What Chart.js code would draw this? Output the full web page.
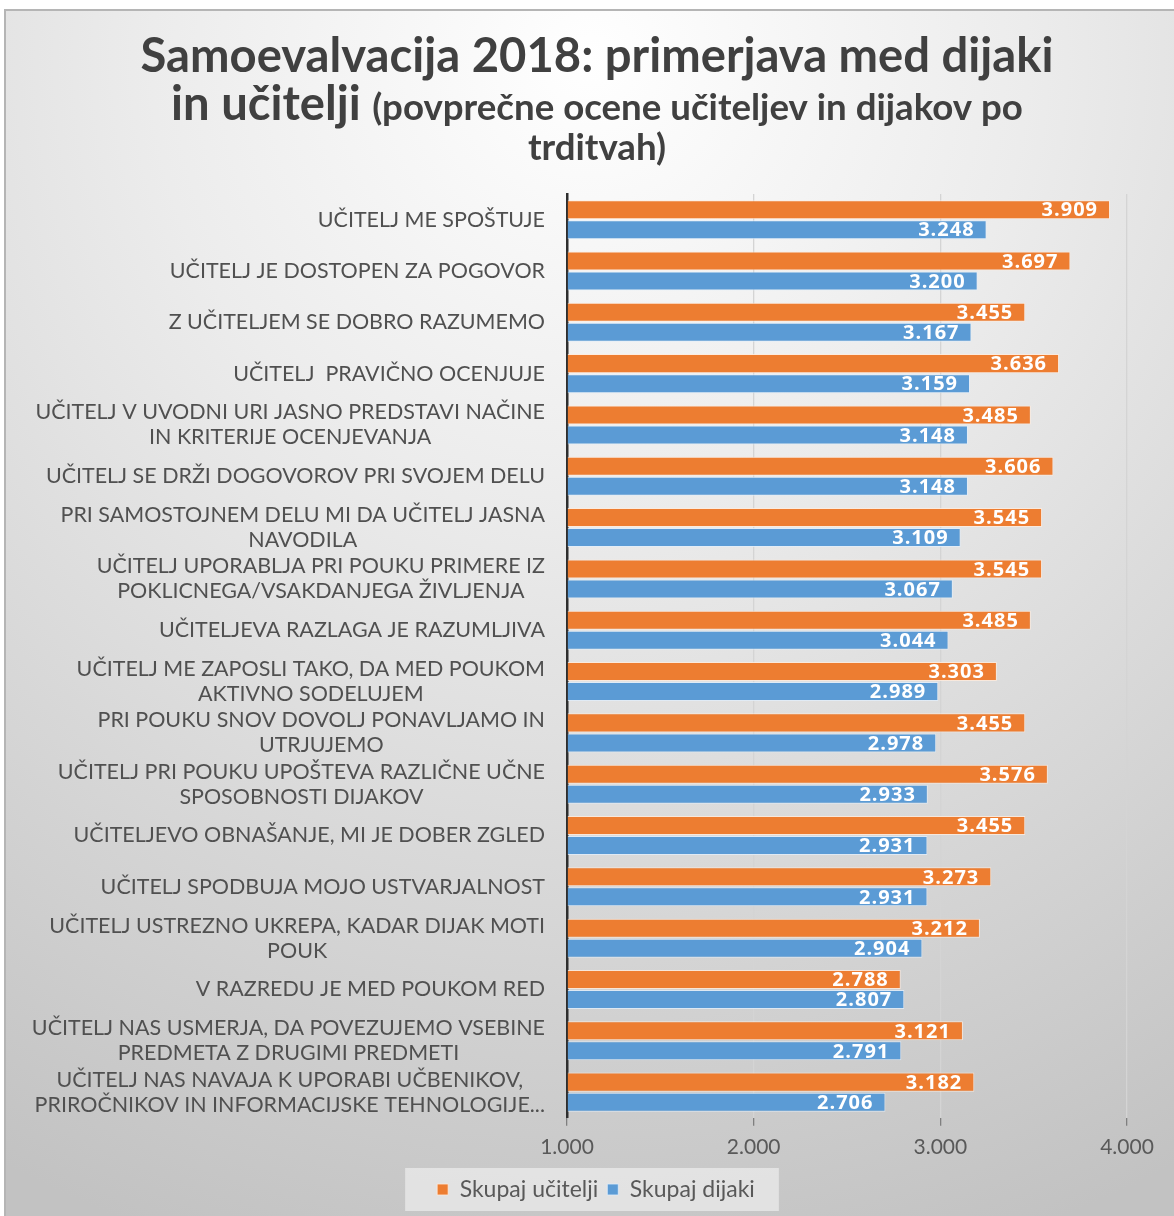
<!DOCTYPE html>
<html>
<head>
<meta charset="utf-8">
<script src="https://cdn.jsdelivr.net/npm/chart.js@4.4.1/dist/chart.umd.min.js"></script>
<style>
  html, body { margin: 0; padding: 0; background: #fff; }
</style>
</head>
<body>
<canvas id="chart" width="1174" height="1216"></canvas>
<script>
const FONT = "Lato, 'Open Sans', sans-serif";

const categories = [
  ["UČITELJ ME SPOŠTUJE"],
  ["UČITELJ JE DOSTOPEN ZA POGOVOR"],
  ["Z UČITELJEM SE DOBRO RAZUMEMO"],
  ["UČITELJ  PRAVIČNO OCENJUJE"],
  ["UČITELJ V UVODNI URI JASNO PREDSTAVI NAČINE", "IN KRITERIJE OCENJEVANJA"],
  ["UČITELJ SE DRŽI DOGOVOROV PRI SVOJEM DELU"],
  ["PRI SAMOSTOJNEM DELU MI DA UČITELJ JASNA", "NAVODILA"],
  ["UČITELJ UPORABLJA PRI POUKU PRIMERE IZ", "POKLICNEGA/VSAKDANJEGA ŽIVLJENJA"],
  ["UČITELJEVA RAZLAGA JE RAZUMLJIVA"],
  ["UČITELJ ME ZAPOSLI TAKO, DA MED POUKOM", "AKTIVNO SODELUJEM"],
  ["PRI POUKU SNOV DOVOLJ PONAVLJAMO IN", "UTRJUJEMO"],
  ["UČITELJ PRI POUKU UPOŠTEVA RAZLIČNE UČNE", "SPOSOBNOSTI DIJAKOV"],
  ["UČITELJEVO OBNAŠANJE, MI JE DOBER ZGLED"],
  ["UČITELJ SPODBUJA MOJO USTVARJALNOST"],
  ["UČITELJ USTREZNO UKREPA, KADAR DIJAK MOTI", "POUK"],
  ["V RAZREDU JE MED POUKOM RED"],
  ["UČITELJ NAS USMERJA, DA POVEZUJEMO VSEBINE", "PREDMETA Z DRUGIMI PREDMETI"],
  ["UČITELJ NAS NAVAJA K UPORABI UČBENIKOV,", "PRIROČNIKOV IN INFORMACIJSKE TEHNOLOGIJE..."]
];

const ucitelji = [3.909, 3.697, 3.455, 3.636, 3.485, 3.606, 3.545, 3.545, 3.485,
                  3.303, 3.455, 3.576, 3.455, 3.273, 3.212, 2.788, 3.121, 3.182];
const dijaki = [3.248, 3.200, 3.167, 3.159, 3.148, 3.148, 3.109, 3.067, 3.044,
                2.989, 2.978, 2.933, 2.931, 2.931, 2.904, 2.807, 2.791, 2.706];

const xMin = 1;
const xMax = 4;

// velikost pisave, da se besedilo raztegne na dano širino
function fitSize(ctx, text, weight, width) {
  ctx.font = weight + " 100px " + FONT;
  return 100 * width / ctx.measureText(text).width;
}

const background = {
  id: "background",
  beforeDraw(chart) {
    const ctx = chart.ctx;
    ctx.save();
    ctx.fillStyle = "#fff";
    ctx.fillRect(0, 0, chart.width, chart.height);
    const g = ctx.createRadialGradient(590, 60, 0, 590, 60, 1250);
    g.addColorStop(0, "#ffffff");
    g.addColorStop(0.35, "#ececec");
    g.addColorStop(1, "#c2c2c2");
    ctx.fillStyle = g;
    ctx.fillRect(5, 10, chart.width - 5, chart.height - 10);
    ctx.strokeStyle = "#b5b5b5";
    ctx.lineWidth = 2;
    ctx.strokeRect(5, 10, chart.width, chart.height);

    // ozadje legende
    const boxes = chart.legend.legendHitBoxes;
    if (boxes && boxes.length) {
      let l = Infinity, r = -Infinity, t = Infinity, b = -Infinity;
      boxes.forEach(h => {
        l = Math.min(l, h.left); r = Math.max(r, h.left + h.width);
        t = Math.min(t, h.top); b = Math.max(b, h.top + h.height);
      });
      ctx.fillStyle = "rgba(235,235,235,0.75)";
      ctx.fillRect(l - 32, t - 10, r - l + 56, b - t + 20);
    }
    ctx.restore();
  }
};

const titleDraw = {
  id: "titleDraw",
  afterDraw(chart) {
    const ctx = chart.ctx;
    ctx.save();
    ctx.fillStyle = "#404040";
    ctx.textBaseline = "alphabetic";
    const t1 = "Samoevalvacija 2018: primerjava med dijaki";
    const big = fitSize(ctx, t1, "bold", 913);
    ctx.font = "bold " + big + "px " + FONT;
    ctx.textAlign = "center";
    ctx.fillText(t1, 597, 72);

    const a = "in učitelji ";
    const b = "(povprečne ocene učiteljev in dijakov po";
    const small = fitSize(ctx, b, "bold", 651);
    ctx.font = "bold " + big + "px " + FONT;
    const wa = ctx.measureText(a).width;
    ctx.font = "bold " + small + "px " + FONT;
    const wb = ctx.measureText(b).width;
    let x = 597 - (wa + wb) / 2;
    ctx.textAlign = "left";
    ctx.font = "bold " + big + "px " + FONT;
    ctx.fillText(a, x, 120);
    ctx.font = "bold " + small + "px " + FONT;
    ctx.fillText(b, x + wa, 120);

    ctx.textAlign = "center";
    ctx.fillText("trditvah)", 597, 160);
    ctx.restore();
  }
};

const categoryLabels = {
  id: "categoryLabels",
  afterDraw(chart) {
    const ctx = chart.ctx;
    const y = chart.scales.y;
    const size = fitSize(ctx, categories[4][0], "normal", 510);
    ctx.save();
    ctx.font = size + "px " + FONT;
    ctx.fillStyle = "#505050";
    ctx.textAlign = "center";
    ctx.textBaseline = "middle";
    const right = chart.chartArea.left - 22;
    categories.forEach((lines, i) => {
      const w = Math.max(...lines.map(s => ctx.measureText(s).width));
      const cx = right - w / 2;
      const cy = y.getPixelForValue(i);
      lines.forEach((s, k) => {
        ctx.fillText(s, cx, cy + (k - (lines.length - 1) / 2) * 25);
      });
    });
    ctx.restore();
  }
};

const valueLabels = {
  id: "valueLabels",
  afterDatasetsDraw(chart) {
    const ctx = chart.ctx;
    ctx.save();
    ctx.font = "bold 20px 'Open Sans', sans-serif";
    ctx.letterSpacing = "1px";
    ctx.fillStyle = "#fff";
    ctx.textAlign = "right";
    ctx.textBaseline = "middle";
    chart.data.datasets.forEach((ds, i) => {
      chart.getDatasetMeta(i).data.forEach((bar, j) => {
        ctx.fillText(ds.data[j].toFixed(3), bar.x - 12, bar.y + 1);
      });
    });
    ctx.restore();
  }
};

new Chart(document.getElementById("chart"), {
  type: "bar",
  data: {
    labels: categories.map(l => l.join(" ")),
    datasets: [
      {
        label: "Skupaj učitelji",
        data: ucitelji,
        base: xMin,
        backgroundColor: "#ED7D31",
        borderColor: "rgba(255,235,220,0.8)",
        borderWidth: 1,
        categoryPercentage: 0.78,
        barPercentage: 0.95
      },
      {
        label: "Skupaj dijaki",
        data: dijaki,
        base: xMin,
        backgroundColor: "#5B9BD5",
        borderColor: "rgba(225,238,250,0.8)",
        borderWidth: 1,
        categoryPercentage: 0.78,
        barPercentage: 0.95
      }
    ]
  },
  options: {
    responsive: false,
    animation: false,
    indexAxis: "y",
    layout: { padding: { top: 194, right: 47, bottom: 5, left: 65 } },
    scales: {
      x: {
        min: xMin,
        max: xMax,
        ticks: {
          stepSize: 1,
          color: "#595959",
          font: { family: FONT, size: 21 },
          padding: 9,
          callback: v => v.toFixed(3)
        },
        grid: { color: "#d4d4d4", tickColor: "#7f7f7f", tickLength: 8, lineWidth: 1.3 },
        border: { display: false }
      },
      y: {
        ticks: { display: false },
        grid: { display: false },
        border: { color: "#2e2e2e", width: 2.5 },
        afterFit(scale) { scale.width = 502; }
      }
    },
    plugins: {
      legend: {
        position: "bottom",
        labels: {
          boxWidth: 11,
          boxHeight: 11,
          color: "#595959",
          font: { family: FONT, size: 23 },
          padding: 9
        }
      },
      tooltip: { enabled: false }
    }
  },
  plugins: [background, titleDraw, categoryLabels, valueLabels]
});
</script>
</body>
</html>
